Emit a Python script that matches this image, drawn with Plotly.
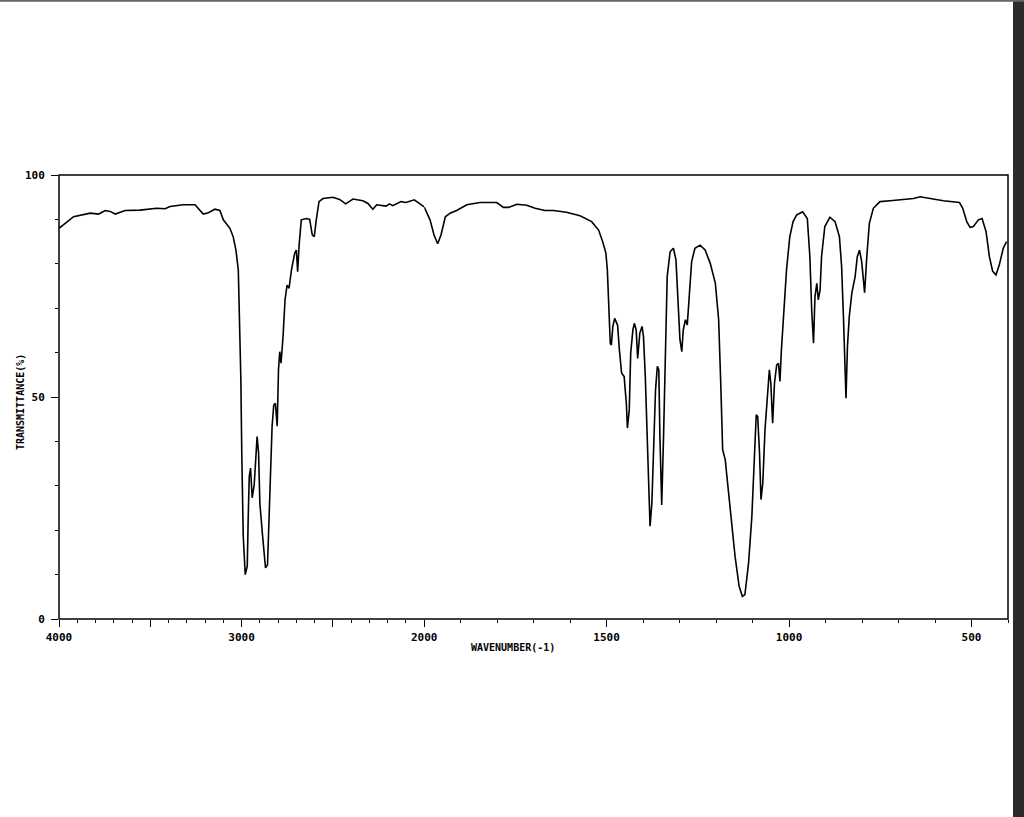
import plotly.graph_objects as go

# ---- data ----
wavenumber = [
    4000, 3965, 3920, 3829, 3783, 3747, 3720, 3692, 3638, 3556, 3465, 3419, 3392, 3319, 3255,
    3210, 3182, 3146, 3119, 3100, 3064, 3046, 3031, 3018, 3009, 3004, 2999, 2991, 2980, 2969,
    2964, 2958, 2951, 2942, 2931, 2922, 2915, 2907, 2900, 2885, 2869, 2858, 2849, 2840, 2833,
    2824, 2815, 2805, 2798, 2791, 2784, 2773, 2762, 2751, 2740, 2727, 2709, 2700, 2693, 2685,
    2673, 2645, 2627, 2613, 2602, 2591, 2576, 2554, 2500, 2463, 2430, 2390, 2336, 2308, 2281,
    2260, 2209, 2190, 2172, 2127, 2100, 2054, 2027, 2000,
    1984, 1973, 1963, 1954, 1942, 1929, 1911, 1883, 1847, 1801, 1783, 1769, 1746, 1719, 1696,
    1669, 1646, 1610, 1573, 1541, 1522, 1511, 1502, 1498, 1494, 1490, 1487, 1483, 1478, 1470,
    1465, 1459, 1452, 1446, 1443, 1438, 1434, 1428, 1424, 1419, 1415, 1409, 1403, 1399, 1394,
    1390, 1385, 1381, 1376, 1372, 1366, 1361, 1357, 1354, 1349, 1344, 1339, 1334, 1326, 1317,
    1310, 1304, 1299, 1294, 1290, 1284, 1279, 1273, 1267, 1258, 1244, 1230, 1216, 1202, 1193,
    1187, 1182, 1175, 1166, 1157, 1148, 1137, 1128, 1121, 1111, 1102, 1095, 1090, 1086, 1081,
    1077, 1072, 1066, 1059, 1054, 1050, 1045, 1040, 1034, 1029, 1025, 1021, 1014, 1007, 998,
    989, 979, 963, 950, 943, 938, 933, 929, 924, 920, 915, 911, 902, 888, 874,
    862, 856, 851, 848, 844, 840, 835, 828, 819, 813, 807, 801, 797, 793, 787,
    780, 769, 751, 723, 687, 659, 641, 614, 577, 533, 524, 513, 504, 495, 481,
    471, 460, 451, 442, 433, 424, 413, 404,
]
transmittance = [
    88.0, 89.1, 90.6, 91.4, 91.2, 92.0, 91.8, 91.2, 92.0, 92.1, 92.5, 92.4, 92.9, 93.3, 93.3,
    91.2, 91.5, 92.3, 92.0, 89.9, 88.0, 86.1, 83.1, 78.6, 65.1, 53.9, 37.4, 18.7, 10.0, 11.9,
    22.4, 32.1, 34.0, 27.3, 30.2, 38.1, 41.1, 37.4, 26.1, 18.7, 11.5, 12.2, 23.9, 35.1, 43.4,
    48.2, 48.6, 43.4, 56.1, 60.2, 57.6, 63.6, 71.9, 75.2, 74.5, 78.6, 82.4, 83.1, 78.2, 84.2,
    89.9, 90.2, 90.0, 86.5, 86.1, 89.9, 94.0, 94.7, 95.0, 94.5, 93.5, 94.6, 94.2, 93.6, 92.3,
    93.3, 93.0, 93.5, 93.1, 94.0, 93.8, 94.4, 93.6, 92.8,
    89.9, 86.5, 84.5, 86.5, 90.6, 91.4, 92.0, 93.3, 93.8, 93.8, 92.7, 92.7, 93.4, 93.2, 92.5,
    92.0, 92.0, 91.6, 90.8, 89.5, 87.6, 85.0, 82.4, 78.6, 71.1, 62.1, 61.7, 65.9, 67.7, 66.2,
    60.6, 55.4, 54.6, 48.6, 43.0, 47.1, 59.9, 65.1, 66.6, 65.1, 58.7, 64.4, 65.9, 63.6, 54.6,
    42.6, 29.1, 20.9, 26.1, 38.1, 51.6, 56.9, 56.1, 41.1, 25.7, 41.1, 63.6, 77.1, 82.7, 83.5,
    80.9, 72.6, 62.9, 60.2, 65.1, 67.4, 66.2, 73.4, 80.5, 83.5, 84.2, 83.1, 80.1, 75.6, 67.4,
    52.4, 38.1, 35.9, 29.1, 21.6, 14.1, 7.4, 5.1, 5.5, 12.6, 23.1, 37.4, 46.0, 45.6, 37.4,
    26.9, 30.6, 42.6, 51.6, 56.1, 53.1, 44.1, 53.1, 57.2, 57.6, 53.5, 60.6, 69.6, 78.6, 86.1,
    89.5, 91.0, 91.7, 90.2, 81.6, 69.6, 62.1, 72.6, 75.6, 71.9, 74.1, 81.6, 88.4, 90.5, 89.5,
    86.1, 79.4, 68.1, 57.6, 49.7, 61.4, 68.1, 73.4, 77.1, 81.6, 83.1, 80.5, 76.4, 73.5, 81.6,
    89.1, 92.5, 94.0, 94.2, 94.5, 94.7, 95.1, 94.7, 94.2, 93.8, 92.5, 89.5, 88.2, 88.4, 89.9,
    90.2, 87.2, 81.6, 78.3, 77.5, 79.7, 83.5, 85.0,
]

x_major_high = [4000, 3500, 3000, 2500, 2000]
x_major_high_text = ["4000", "", "3000", "", "2000"]
x_major_low = [1500, 1000, 500]
x_major_low_text = ["1500", "1000", "500"]
y_major = [0, 50, 100]
y_major_text = ["0", "50", "100"]

x_title = "WAVENUMBER(-1)"
y_title = "TRANSMITTANCE(%)"

# ---- split at the scale change (2000) ----
hi_x = [w for w in wavenumber if w >= 2000]
hi_y = [t for w, t in zip(wavenumber, transmittance) if w >= 2000]
lo_x = [w for w in wavenumber if w <= 2000]
lo_y = [t for w, t in zip(wavenumber, transmittance) if w <= 2000]

W, H = 1024, 817
L, R, T, B = 58.7, 1008.0, 175.0, 619.5
split = (424.0 - L) / (R - L)

line = dict(color="black", width=1.6)
fig = go.Figure()
fig.add_trace(go.Scatter(x=hi_x, y=hi_y, mode="lines", line=line, xaxis="x", yaxis="y",
                         showlegend=False, hoverinfo="x+y"))
fig.add_trace(go.Scatter(x=lo_x, y=lo_y, mode="lines", line=line, xaxis="x2", yaxis="y",
                         showlegend=False, hoverinfo="x+y"))

tickfont = dict(family="DejaVu Sans Mono", size=11, color="black", weight="bold")
titlefont = dict(family="DejaVu Sans Mono", size=10, color="black", weight="bold")

common_x = dict(showgrid=False, zeroline=False, showline=False, ticks="outside",
                ticklen=7, tickwidth=1, tickcolor="black", tickfont=tickfont,
                ticklabelstandoff=1,
                minor=dict(ticks="outside", dtick=100, tick0=0, ticklen=3,
                           tickwidth=1, tickcolor="black"))

fig.update_layout(
    width=W, height=H, autosize=False,
    margin=dict(l=L, r=W - R, t=T, b=H - B, autoexpand=False),
    paper_bgcolor="white", plot_bgcolor="white",
    xaxis=dict(domain=[0, split], range=[4000, 2000], tickvals=x_major_high,
               ticktext=x_major_high_text, anchor="y", **common_x),
    xaxis2=dict(domain=[split, 1], range=[2000, 400], tickvals=x_major_low,
                ticktext=x_major_low_text, anchor="y", **common_x),
    yaxis=dict(range=[0, 100], tickvals=y_major, ticktext=y_major_text,
               showgrid=False, zeroline=False, showline=False, ticks="outside",
               ticklen=7, tickwidth=1, tickcolor="black", tickfont=tickfont,
               ticklabelstandoff=4,
               minor=dict(ticks="outside", dtick=10, ticklen=3, tickwidth=1,
                          tickcolor="black")),
    shapes=[
        dict(type="rect", xref="paper", yref="paper", x0=0, x1=1, y0=0, y1=1,
             line=dict(color="black", width=1.5), fillcolor="rgba(0,0,0,0)", layer="above"),
        # screenshot edges
        dict(type="rect", xref="paper", yref="paper",
             x0=(1013 - L) / (R - L), x1=(1030 - L) / (R - L),
             y0=(B - 830) / (B - T), y1=(B + 10) / (B - T),
             line=dict(width=0), fillcolor="#2b2b2b", layer="above"),
        dict(type="rect", xref="paper", yref="paper",
             x0=-0.1, x1=1.05,
             y0=(B - 1.5) / (B - T), y1=(B + 10) / (B - T),
             line=dict(width=0), fillcolor="#666666", layer="above"),
    ],
    annotations=[
        dict(text=x_title, xref="paper", yref="paper",
             x=(513 - L) / (R - L), y=(B - 648) / (B - T), showarrow=False,
             font=titlefont, xanchor="center", yanchor="middle"),
        dict(text=y_title, xref="paper", yref="paper",
             x=(20 - L) / (R - L), y=(B - 402) / (B - T), showarrow=False, textangle=-90,
             font=titlefont, xanchor="center", yanchor="middle"),
    ],
)

fig.write_html(
    "out.html",
    config={"displayModeBar": False, "responsive": False},
    post_script=("document.documentElement.style.overflow='hidden';"
                 "document.body.style.overflow='hidden';"
                 "document.body.style.margin='0';document.body.style.padding='0';"),
)
